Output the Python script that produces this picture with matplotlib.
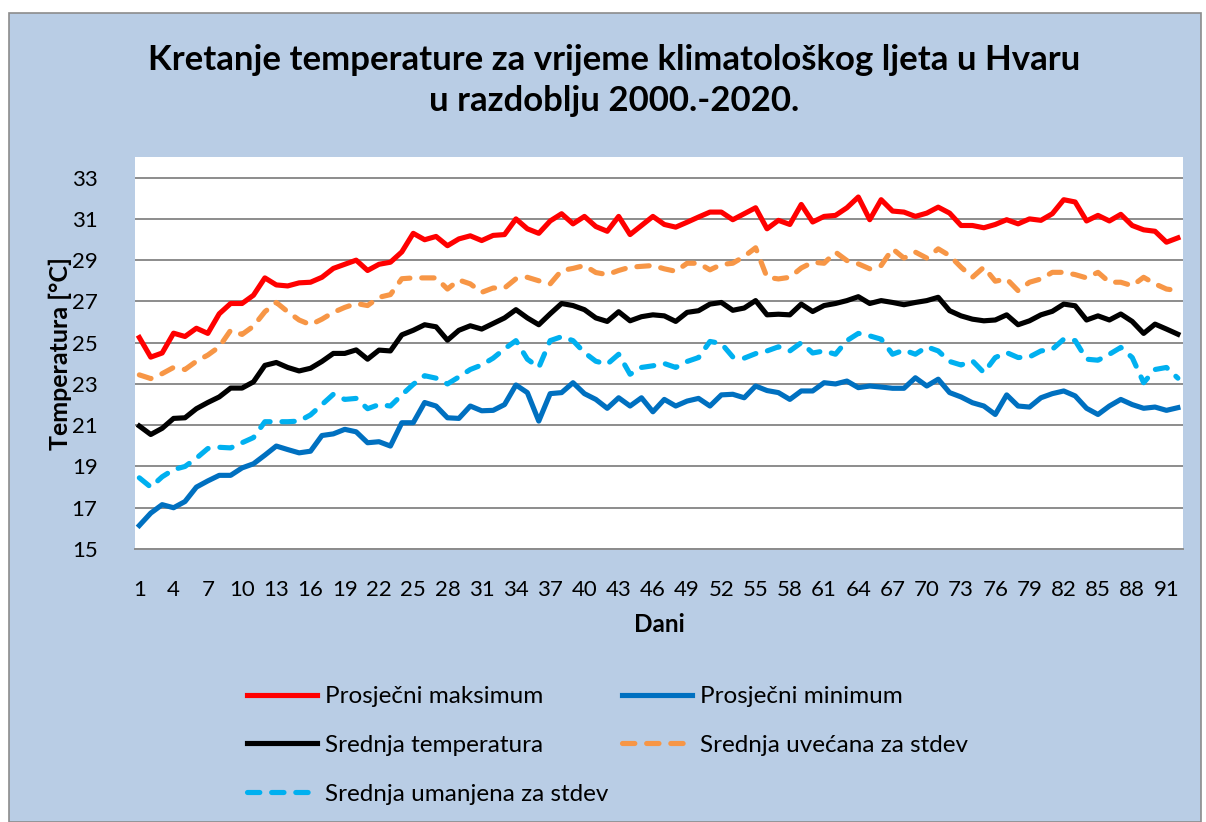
import numpy as np
import matplotlib
matplotlib.use("Agg")
import matplotlib.pyplot as plt
from matplotlib.patches import Rectangle

plt.rcParams['font.family'] = ['Lato', 'DejaVu Sans']

# dani 1..92 (klimatolosko ljeto)
days = np.arange(1, 93)

max_t = [25.25, 24.3, 24.5, 25.46, 25.3, 25.7, 25.45, 26.4, 26.9, 26.9,
         27.3, 28.14, 27.8, 27.75, 27.9, 27.93, 28.17, 28.6, 28.8, 29.0,
         28.5, 28.8, 28.9, 29.4, 30.3, 29.99, 30.15, 29.7, 30.03, 30.18,
         29.95, 30.2, 30.24, 31.0, 30.52, 30.3, 30.9, 31.25, 30.76, 31.12,
         30.63, 30.4, 31.12, 30.24, 30.68, 31.12, 30.73, 30.6, 30.84, 31.09,
         31.33, 31.33, 30.96, 31.25, 31.54, 30.52, 30.93, 30.73, 31.7, 30.85,
         31.12, 31.17, 31.54, 32.06, 30.96, 31.93, 31.38, 31.33, 31.12, 31.28,
         31.57, 31.28, 30.68, 30.68, 30.57, 30.73, 30.96, 30.76, 31.0, 30.93,
         31.25, 31.93, 31.82, 30.9, 31.17, 30.9, 31.22, 30.68, 30.47, 30.4,
         29.87, 30.08]

min_t = [16.14, 16.74, 17.15, 17.0, 17.3, 18.0, 18.3, 18.57, 18.57, 18.93,
         19.13, 19.55, 19.99, 19.82, 19.66, 19.74, 20.5, 20.58, 20.8, 20.68,
         20.15, 20.2, 19.99, 21.12, 21.12, 22.1, 21.93, 21.36, 21.33, 21.93,
         21.7, 21.72, 22.0, 22.95, 22.58, 21.2, 22.53, 22.58, 23.06, 22.53,
         22.25, 21.82, 22.33, 21.93, 22.33, 21.65, 22.25, 21.93, 22.17, 22.3,
         21.93, 22.47, 22.5, 22.33, 22.9, 22.68, 22.58, 22.25, 22.66, 22.66,
         23.06, 23.0, 23.14, 22.82, 22.9, 22.85, 22.79, 22.79, 23.3, 22.9,
         23.23, 22.58, 22.37, 22.09, 21.93, 21.52, 22.47, 21.93, 21.88, 22.33,
         22.53, 22.66, 22.42, 21.82, 21.52, 21.93, 22.25, 22.0, 21.82, 21.88,
         21.72, 21.85]

mean_t = [20.96, 20.55, 20.85, 21.33, 21.36, 21.8, 22.1, 22.37, 22.8, 22.8,
          23.1, 23.9, 24.04, 23.8, 23.63, 23.76, 24.09, 24.48, 24.48, 24.65,
          24.2, 24.64, 24.6, 25.38, 25.6, 25.87, 25.77, 25.12, 25.6, 25.82,
          25.66, 25.93, 26.2, 26.6, 26.2, 25.87, 26.4, 26.9, 26.8, 26.6,
          26.2, 26.03, 26.5, 26.06, 26.26, 26.35, 26.3, 26.03, 26.47, 26.55,
          26.87, 26.95, 26.57, 26.68, 27.04, 26.35, 26.38, 26.35, 26.87, 26.51,
          26.8, 26.9, 27.04, 27.23, 26.9, 27.04, 26.95, 26.84, 26.95, 27.04,
          27.2, 26.55, 26.3, 26.14, 26.06, 26.1, 26.35, 25.87, 26.06, 26.35,
          26.52, 26.87, 26.79, 26.1, 26.3, 26.1, 26.39, 26.03, 25.45, 25.9,
          25.66, 25.41]

upper_t = [23.44, 23.26, 23.5, 23.8, 23.7, 24.1, 24.4, 24.8, 25.6, 25.4,
           25.8, 26.5, 26.95, 26.5, 26.1, 25.87, 26.14, 26.47, 26.71, 26.9,
           26.8, 27.2, 27.33, 28.1, 28.14, 28.14, 28.14, 27.6, 28.04, 27.85,
           27.44, 27.65, 27.65, 28.1, 28.17, 28.0, 27.85, 28.5, 28.6, 28.74,
           28.4, 28.3, 28.5, 28.66, 28.7, 28.74, 28.58, 28.46, 28.85, 28.85,
           28.53, 28.79, 28.85, 29.18, 29.6, 28.17, 28.09, 28.17, 28.62, 28.9,
           28.85, 29.39, 28.98, 28.82, 28.58, 28.74, 29.55, 29.1, 29.39, 29.1,
           29.55, 29.22, 28.66, 28.17, 28.66, 27.98, 28.09, 27.52, 27.93, 28.09,
           28.41, 28.41, 28.3, 28.14, 28.41, 27.93, 27.93, 27.76, 28.17, 27.85,
           27.6, 27.52]

lower_t = [18.45, 18.0, 18.5, 18.85, 19.0, 19.4, 19.87, 19.93, 19.9, 20.15,
           20.4, 21.17, 21.17, 21.17, 21.2, 21.5, 22.0, 22.5, 22.25, 22.3,
           21.8, 22.0, 21.93, 22.47, 22.98, 23.4, 23.28, 23.0, 23.34, 23.7,
           23.92, 24.25, 24.7, 25.1, 24.2, 23.8, 25.1, 25.29, 25.1, 24.52,
           24.1, 23.96, 24.44, 23.47, 23.8, 23.88, 23.99, 23.8, 24.09, 24.28,
           25.06, 24.96, 24.31, 24.25, 24.47, 24.6, 24.8, 24.6, 25.0, 24.5,
           24.6, 24.44, 25.1, 25.45, 25.33, 25.17, 24.44, 24.64, 24.44, 24.8,
           24.6, 24.09, 23.92, 24.12, 23.55, 24.28, 24.52, 24.28, 24.31, 24.6,
           24.68, 25.17, 25.1, 24.2, 24.15, 24.44, 24.77, 24.28, 23.06, 23.7,
           23.8, 23.28]

xticks = np.arange(1, 92, 3)
yticks = np.arange(15, 34, 2)

W, H = 1206, 822
fig = plt.figure(figsize=(W / 100, H / 100), dpi=100)
fig.patch.set_facecolor('white')

# plava pozadina grafikona (kao u Excelu)
fig.patches.append(Rectangle((9 / W, 0), (1201 - 9) / W, (H - 13) / H,
                             transform=fig.transFigure, facecolor='#B9CDE5',
                             edgecolor='#8C8C8C', linewidth=1.2, zorder=-10))

ax = fig.add_axes([135 / W, (H - 549) / H, (1183 - 135) / W, (549 - 157) / H])
ax.set_zorder(1)
ax.set_facecolor('white')

lw = 3.7
ax.plot(days, max_t, color='#FF0000', lw=lw, solid_joinstyle='round', label='Prosječni maksimum', zorder=5)
ax.plot(days, min_t, color='#0070C0', lw=lw, solid_joinstyle='round', label='Prosječni minimum', zorder=5)
ax.plot(days, mean_t, color='#000000', lw=lw, solid_joinstyle='round', label='Srednja temperatura', zorder=5)
ax.plot(days, upper_t, color='#F79646', lw=lw, dashes=(2.4, 2.3), dash_capstyle='round',
        label='Srednja uvećana za stdev', zorder=4)
ax.plot(days, lower_t, color='#00B0F0', lw=lw, dashes=(2.4, 2.3), dash_capstyle='round',
        label='Srednja umanjena za stdev', zorder=4)

ax.set_xlim(0.62, 92.45)
ax.set_ylim(15, 34)
ax.set_xticks(xticks)
ax.set_yticks(yticks)
ax.tick_params(length=0, labelsize=16, colors='black')
ax.tick_params(axis='y', pad=27)
ax.tick_params(axis='x', pad=22)
ax.grid(axis='y', color='#8C8C8C', lw=1.4)
for s in ['top', 'right', 'left']:
    ax.spines[s].set_visible(False)
ax.spines['bottom'].set_color('#8C8C8C')
ax.spines['bottom'].set_linewidth(1.4)

ax.set_xlabel('Dani', fontsize=17.5, fontweight='bold', labelpad=10)
ax.set_ylabel('Temperatura [°C]', fontsize=18, fontweight='bold')
ax.yaxis.set_label_coords(-0.060, 0.5)

fig.text(614 / W, 1 - 60 / H, 'Kretanje temperature za vrijeme klimatološkog ljeta u Hvaru',
         ha='center', va='center', fontsize=25, fontweight='bold')
fig.text(614 / W, 1 - 101 / H, 'u razdoblju 2000.-2020.',
         ha='center', va='center', fontsize=25, fontweight='bold')

h, l = ax.get_legend_handles_labels()
leg_kw = dict(frameon=False, fontsize=17.5, handlelength=2.9, handletextpad=0.29,
              labelspacing=1.15, loc='upper left', borderpad=0, borderaxespad=0)
fig.legend([h[0], h[2], h[4]], [l[0], l[2], l[4]],
           bbox_to_anchor=(247 / W, 1 - 686 / H), **leg_kw)
fig.legend([h[1], h[3]], [l[1], l[3]],
           bbox_to_anchor=(622 / W, 1 - 686 / H), **leg_kw)

fig.savefig('out.png', dpi=100)
